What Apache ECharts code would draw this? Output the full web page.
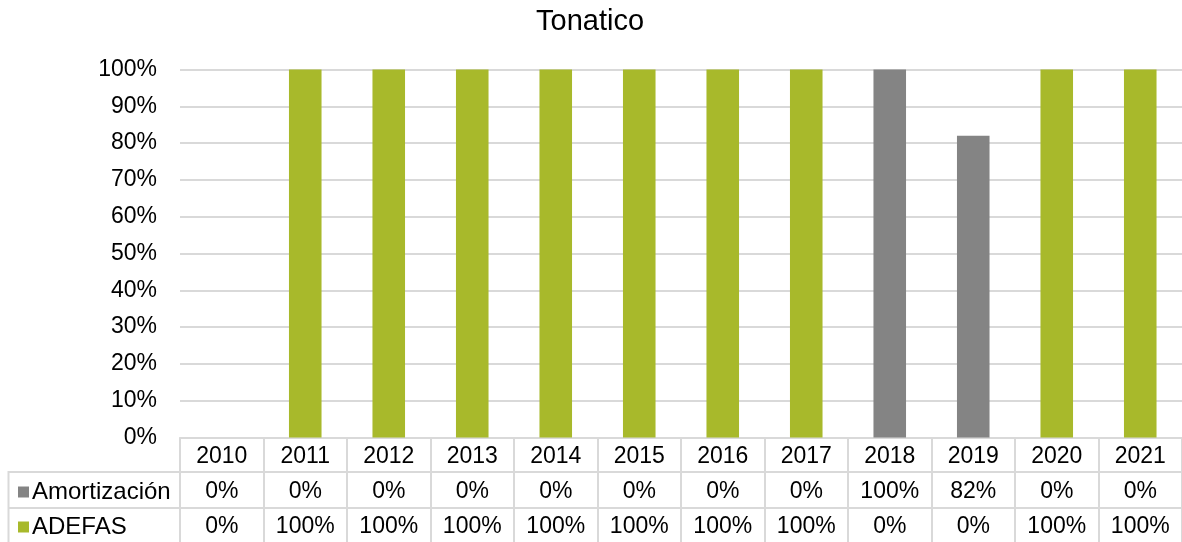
<!DOCTYPE html>
<html>
<head>
<meta charset="utf-8">
<script src="https://cdn.jsdelivr.net/npm/echarts@6/dist/echarts.min.js"></script>
<style>
  html, body { margin: 0; padding: 0; background: #fff; }
  #chart { width: 1182px; height: 542px; }
</style>
</head>
<body>
<div id="chart"></div>
<script>
// datos de la tabla
var years = ['2010', '2011', '2012', '2013', '2014', '2015', '2016', '2017', '2018', '2019', '2020', '2021'];
var amortizacion = [0, 0, 0, 0, 0, 0, 0, 0, 100, 82, 0, 0];
var adefas = [0, 100, 100, 100, 100, 100, 100, 100, 0, 0, 100, 100];
var yTicks = [0, 10, 20, 30, 40, 50, 60, 70, 80, 90, 100];

var FONT = "'Liberation Sans', Arial, sans-serif";
var GRID_LINE = '#d9d9d9';
var GRAY = '#848484';
var GREEN = '#a8b92b';

var chart = echarts.init(document.getElementById('chart'), null, { renderer: 'canvas' });

// eje de categorias que sirve de fila en la tabla
function tableAxis(offset, values, margin, showTick) {
  return {
    type: 'category',
    data: years,
    position: 'bottom',
    offset: offset,
    gridIndex: 0,
    axisLine: { show: true, lineStyle: { color: GRID_LINE, width: 2 } },
    axisTick: { show: showTick, interval: 0, length: 105, lineStyle: { color: GRID_LINE, width: 2 } },
    axisLabel: {
      interval: 0,
      margin: margin,
      verticalAlign: 'middle',
      color: '#000',
      fontSize: 23,
      fontFamily: FONT,
      formatter: function (v, i) { return values ? values[i] + '%' : v; }
    },
    splitLine: { show: false }
  };
}

var option = {
  backgroundColor: '#ffffff',
  animation: false,
  title: {
    text: 'Tonatico',
    left: 531,
    top: 2,
    textStyle: { fontSize: 29, fontWeight: 'normal', color: '#000', fontFamily: FONT }
  },
  legend: {
    data: ['Amortización', 'ADEFAS'],
    orient: 'vertical',
    left: 18,
    top: 480,
    padding: 0,
    itemGap: 11,
    itemWidth: 11,
    itemHeight: 11,
    icon: 'rect',
    selectedMode: false,
    textStyle: { fontSize: 24, lineHeight: 24, color: '#000', fontFamily: FONT, padding: [0, 0, 0, -2] }
  },
  grid: { left: 180, top: 69.5, width: 1008, height: 368 },
  xAxis: [
    tableAxis(0, null, 19.5, true),
    tableAxis(34.5, amortizacion, 20, false),
    tableAxis(70.5, adefas, 19, false)
  ],
  yAxis: {
    type: 'value',
    min: yTicks[0],
    max: yTicks[yTicks.length - 1],
    interval: 10,
    axisLine: { show: false },
    axisTick: { show: false },
    axisLabel: { formatter: '{value}%', margin: 23, color: '#000', fontSize: 23, fontFamily: FONT },
    splitLine: { lineStyle: { color: GRID_LINE, width: 2 } }
  },
  series: [
    {
      name: 'Amortización',
      type: 'bar',
      stack: 'total',
      xAxisIndex: 0,
      barWidth: '39%',
      itemStyle: { color: GRAY },
      data: amortizacion
    },
    {
      name: 'ADEFAS',
      type: 'bar',
      stack: 'total',
      xAxisIndex: 0,
      barWidth: '39%',
      itemStyle: { color: GREEN },
      data: adefas
    }
  ],
  graphic: [
    // bordes de la columna de encabezados de la tabla
    { type: 'line', shape: { x1: 8.5, y1: 472, x2: 180, y2: 472 }, style: { stroke: GRID_LINE, lineWidth: 2 } },
    { type: 'line', shape: { x1: 8.5, y1: 508, x2: 180, y2: 508 }, style: { stroke: GRID_LINE, lineWidth: 2 } },
    { type: 'line', shape: { x1: 8.5, y1: 471, x2: 8.5, y2: 542 }, style: { stroke: GRID_LINE, lineWidth: 2 } }
  ]
};

chart.setOption(option);
</script>
</body>
</html>
